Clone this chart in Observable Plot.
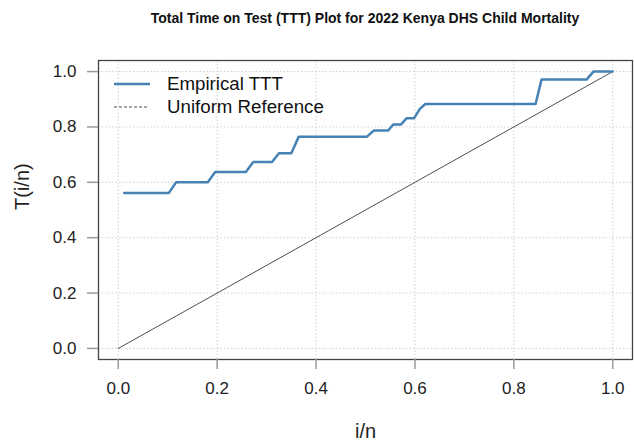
<!DOCTYPE html>
<html>
<head>
<meta charset="utf-8">
<script src="https://cdn.jsdelivr.net/npm/d3@7"></script>
<script src="https://cdn.jsdelivr.net/npm/@observablehq/plot@0.6"></script>
<style>
  html, body { margin: 0; padding: 0; background: #fff; }
  #wrap { position: relative; width: 634px; height: 442px; font-family: "Liberation Sans", Arial, sans-serif; }
  #title { width: 534px; margin-left: 98px; height: 36px; line-height: 37px; text-align: center; font-weight: bold; font-size: 14px; color: #111; }
  #legend { position: absolute; left: 110px; top: 72px; font-size: 18.7px; color: #111; }
  #legend .row { position: absolute; left: 0; height: 24px; white-space: nowrap; }
  #legend svg { position: absolute; left: 0; top: 0; }
  #legend span { position: absolute; left: 57px; top: 0; line-height: 24px; }
</style>
</head>
<body>
<div id="wrap">
  <div id="title">Total Time on Test (TTT) Plot for 2022 Kenya DHS Child Mortality</div>
  <div id="chart"></div>
  <div id="legend"></div>
</div>
<script>
// Empirical TTT curve vertices (i/n, T(i/n))
const tttX = [0.012, 0.102, 0.117, 0.181, 0.196, 0.258, 0.273, 0.311, 0.325, 0.350, 0.365, 0.503, 0.517, 0.546, 0.556, 0.572, 0.583, 0.598, 0.610, 0.621, 0.844, 0.856, 0.947, 0.961, 1.000];
const tttY = [0.561, 0.561, 0.600, 0.600, 0.637, 0.637, 0.673, 0.673, 0.705, 0.705, 0.765, 0.765, 0.787, 0.787, 0.809, 0.809, 0.831, 0.831, 0.865, 0.883, 0.883, 0.971, 0.971, 1.000, 1.000];
// Uniform reference line
const refX = [0, 1];
const refY = [0, 1];
// Tick values
const tickValues = [0, 0.2, 0.4, 0.6, 0.8, 1.0];
const legendLabels = ["Empirical TTT", "Uniform Reference"];

const ttt = tttX.map((x, i) => ({x, y: tttY[i]}));
const ref = refX.map((x, i) => ({x, y: refY[i]}));

const chart = Plot.plot({
  width: 634,
  height: 406,
  marginLeft: 98,
  marginRight: 2,
  marginTop: 24,
  marginBottom: 83,
  style: {fontFamily: "'Liberation Sans', Arial, sans-serif", fontSize: "17px", color: "#222", background: "#fff"},
  x: {domain: [-0.04, 1.04]},
  y: {domain: [-0.04, 1.04]},
  marks: [
    Plot.gridX(tickValues, {stroke: "#d0d0d0", strokeOpacity: 1, strokeDasharray: "1.5,2"}),
    Plot.gridY(tickValues, {stroke: "#d0d0d0", strokeOpacity: 1, strokeDasharray: "1.5,2"}),
    Plot.line(ref, {x: "x", y: "y", stroke: "#222", strokeWidth: 0.8}),
    Plot.line(ttt, {x: "x", y: "y", stroke: "steelblue", strokeWidth: 2.5}),
    Plot.frame({stroke: "#444", strokeWidth: 1.3}),
    Plot.axisX(tickValues, {tickFormat: d3.format(".1f"), tickSize: 10, tickPadding: 12, stroke: "#999", strokeWidth: 1.5, fill: "#222", label: null, fontSize: 17}),
    Plot.axisY(tickValues, {tickFormat: d3.format(".1f"), tickSize: 11, tickPadding: 11, stroke: "#999", strokeWidth: 1.5, fill: "#222", label: null, fontSize: 17}),
    Plot.text(["T(i/n)"], {frameAnchor: "left", rotate: -90, dx: -76, fontSize: 20, fill: "#222"}),
    Plot.text(["i/n"], {frameAnchor: "bottom", lineAnchor: "bottom", dy: 78, fontSize: 20, fill: "#222"})
  ]
});
document.getElementById("chart").appendChild(chart);

// Legend (top-left inside the plot box)
const legend = document.getElementById("legend");
const styles = [
  {stroke: "steelblue", width: 2.5, dash: null, len: 36},
  {stroke: "#222", width: 0.8, dash: "3,2", len: 33}
];
legendLabels.forEach((lab, i) => {
  const row = document.createElement("div");
  row.className = "row";
  row.style.top = (i * 23) + "px";
  const s = styles[i];
  row.innerHTML = `<svg width="50" height="24"><line x1="4" x2="${4 + s.len}" y1="12" y2="12" stroke="${s.stroke}" stroke-width="${s.width}" ${s.dash ? `stroke-dasharray="${s.dash}"` : ""}/></svg><span>${lab}</span>`;
  legend.appendChild(row);
});
</script>
</body>
</html>
